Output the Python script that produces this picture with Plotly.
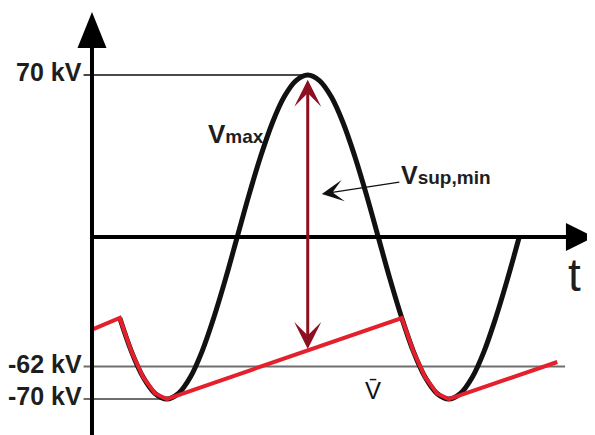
import plotly.graph_objects as go

# ---- data (schematic: time in ms, voltage in kV) ----
sine_t = [1.97, 2.80, 3.63, 4.47, 5.30, 6.13, 6.97, 7.80, 8.63, 9.47, 10.30,
          11.13, 11.97, 12.80, 13.63, 14.47, 15.30, 16.13, 16.97, 17.80, 18.63,
          19.47, 20.30, 21.13, 21.97, 22.80, 23.63, 24.47, 25.30, 26.13, 26.97,
          27.80, 28.63, 29.47, 30.30]
sine_v = [-35, -49.5, -60.6, -67.6, -70, -67.6, -60.6, -49.5, -35, -18.1, 0,
          18.1, 35, 49.5, 60.6, 67.6, 70, 67.6, 60.6, 49.5, 35,
          18.1, 0, -18.1, -35, -49.5, -60.6, -67.6, -70, -67.6, -60.6,
          -49.5, -35, -18.1, 0]

ripple_t = [0.0, 1.97, 2.80, 3.63, 4.47, 5.30, 21.97, 22.80, 23.63, 24.47, 25.30, 33.0]
ripple_v = [-40, -35, -49.5, -60.6, -67.6, -70, -35, -49.5, -60.6, -67.6, -70, -54]

level_labels = ["70 kV", "-62 kV", "-70 kV"]
level_values = [70, -56, -70]          # drawn heights of the guide lines
level_ends = [15.30, 33.55, 5.53]      # where each guide line stops

vmax_t = 15.30        # time of the peak
vmax_top = 68         # arrow top (just under the peak)
vmax_bottom = -49     # arrow bottom (on the ripple ramp)

# page has an 8px body margin -> ranges chosen so the drawing lands in place
X_RANGE = [-5.957, 36.241]
Y_RANGE = [-89.0, 98.95]

FONT = "Liberation Sans, Arial, sans-serif"

fig = go.Figure()

# guide lines
guide_colors = ["#4a4a4a", "#6e6e6e", "#6e6e6e"]
for v, e, c in zip(level_values, level_ends, guide_colors):
    fig.add_shape(type="line", x0=-0.6, x1=e, y0=v, y1=v,
                  line=dict(color=c, width=2), layer="below")

# axes
fig.add_shape(type="line", x0=0, x1=0, y0=-95, y1=83,
              line=dict(color="black", width=4))
fig.add_shape(type="line", x0=0, x1=33.9, y0=0, y1=0,
              line=dict(color="black", width=4))
# arrow heads (pixel-sized paths anchored at axis ends)
fig.add_shape(type="path", xsizemode="pixel", ysizemode="pixel",
              xanchor=0, yanchor=97.2,
              path="M-14.5,-36 L14.5,-36 L0,0 Z",
              fillcolor="black", line=dict(width=0))
fig.add_shape(type="path", xsizemode="pixel", ysizemode="pixel",
              xanchor=35.6, yanchor=0,
              path="M-28,-14 L-28,14 L0,0 Z",
              fillcolor="black", line=dict(width=0))

# sine wave
fig.add_trace(go.Scatter(x=sine_t, y=sine_v, mode="lines",
                         line=dict(color="#111111", width=5, shape="spline"),
                         hoverinfo="skip"))
# rectified / ripple voltage
fig.add_trace(go.Scatter(x=ripple_t, y=ripple_v, mode="lines",
                         line=dict(color="#e3202c", width=4),
                         hoverinfo="skip"))

ann = []
# level labels
for lab, v in zip(level_labels, level_values):
    ann.append(dict(x=-0.55, y=v, xref="x", yref="y", text="<b>" + lab + "</b>",
                    showarrow=False, xanchor="right", yanchor="middle", yshift=3,
                    font=dict(family=FONT, size=25, color="#1e1e1e")))

# double arrow Vmax -> ripple
ann.append(dict(x=vmax_t, y=vmax_top, ax=vmax_t, ay=vmax_bottom,
                xref="x", yref="y", axref="x", ayref="y", text="",
                showarrow=True, arrowside="end+start",
                arrowhead=3, startarrowhead=3, arrowsize=1.5, startarrowsize=1.5,
                arrowwidth=3, arrowcolor="#8e1020"))

# Vmax label
ann.append(dict(x=10.2, y=44.5, xref="x", yref="y",
                text="<b>V<span style='font-size:19px'>max</span></b>",
                showarrow=False, xanchor="center", yanchor="middle",
                font=dict(family=FONT, size=26, color="#1e1e1e")))

# Vsup,min label with arrow
ann.append(dict(x=16.3, y=18.6, xref="x", yref="y",
                text="<b>V<span style='font-size:19px'>sup,min</span></b>",
                showarrow=True, ax=124, ay=-19, arrowhead=3, arrowsize=3,
                arrowwidth=1.2, arrowcolor="#111111",
                font=dict(family=FONT, size=25, color="#1e1e1e")))

# V-bar label
ann.append(dict(x=19.9, y=-66.5, xref="x", yref="y", text="V\u0304",
                showarrow=False, xanchor="center", yanchor="middle",
                font=dict(family=FONT, size=24, color="#111111")))

# t label
ann.append(dict(x=34.25, y=-16.4, xref="x", yref="y", text="t",
                showarrow=False, xanchor="center", yanchor="middle",
                font=dict(family=FONT, size=46, color="#1e1e1e")))

fig.update_layout(
    width=595, height=435,
    margin=dict(l=0, r=0, t=0, b=0),
    paper_bgcolor="white", plot_bgcolor="white",
    showlegend=False,
    xaxis=dict(range=X_RANGE, visible=False, fixedrange=True),
    yaxis=dict(range=Y_RANGE, visible=False, fixedrange=True),
    annotations=ann,
)

fig.write_html("out.html")
